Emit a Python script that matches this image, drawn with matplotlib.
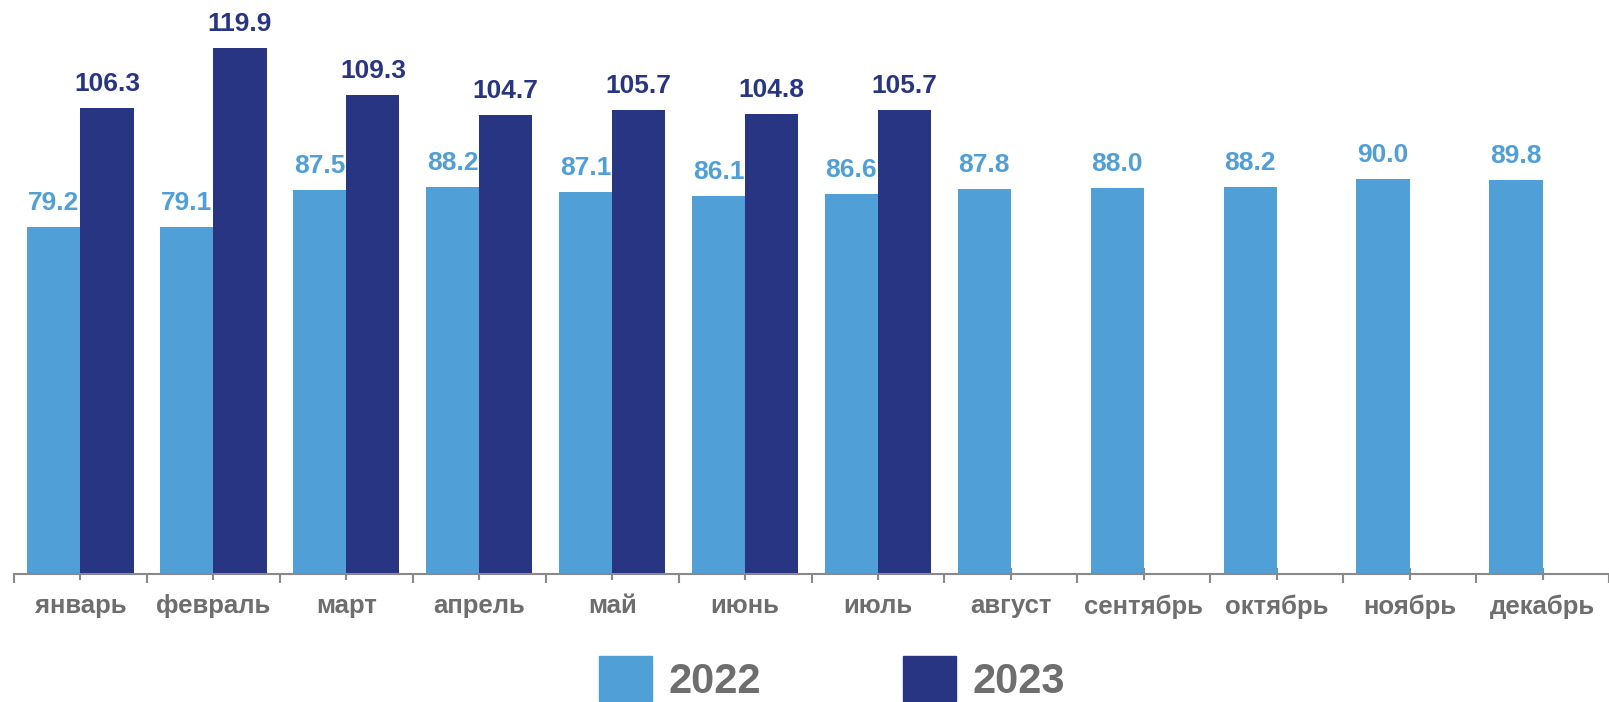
import matplotlib.pyplot as plt
import numpy as np
from matplotlib.patches import Patch

months = ['январь', 'февраль', 'март', 'апрель', 'май', 'июнь', 'июль',
          'август', 'сентябрь', 'октябрь', 'ноябрь', 'декабрь']
vals_2022 = [79.2, 79.1, 87.5, 88.2, 87.1, 86.1, 86.6, 87.8, 88.0, 88.2, 90.0, 89.8]
vals_2023 = [106.3, 119.9, 109.3, 104.7, 105.7, 104.8, 105.7]

c22 = '#519FD7'
c23 = '#283583'
grey = '#6E6E6E'
axis_grey = '#898989'

plt.rcParams['font.family'] = ['Liberation Sans', 'DejaVu Sans']

W, H = 1609, 702
cw = 133.5  # pixel width of one month
fig = plt.figure(figsize=(W / 100, H / 100), dpi=100)
ax = fig.add_axes([14 / W, 128 / H, (W - 14) / W, 574 / H])

w = 0.4
x22 = np.arange(len(vals_2022))
x23 = np.arange(len(vals_2023))
b22 = ax.bar(x22 - w / 2, vals_2022, width=w, color=c22, zorder=2)
b23 = ax.bar(x23 + w / 2, vals_2023, width=w, color=c23, zorder=2)

for bars, vals, col in [(b22, vals_2022, c22), (b23, vals_2023, c23)]:
    for b, v in zip(bars, vals):
        ax.annotate(f'{v:.1f}', (b.get_x() + b.get_width() / 2, v),
                    xytext=(0, 12.2), textcoords='offset points',
                    ha='center', va='baseline', fontsize=19,
                    fontweight='bold', color=col)

ax.set_xlim(-0.5, -0.5 + (W - 14) / cw)
ax.set_ylim(0, 574 / 4.387)

for s in ['left', 'top', 'right']:
    ax.spines[s].set_visible(False)
ax.spines['bottom'].set_color(axis_grey)
ax.spines['bottom'].set_linewidth(1.5)

ax.set_yticks([])
ax.set_xticks(np.arange(12))
ax.set_xticklabels(months, fontsize=18.5, fontweight='bold', color=grey)
ax.set_xticks(np.arange(13) - 0.5, minor=True)
ax.tick_params(axis='x', which='major', direction='inout', length=8, width=1.5,
               color=axis_grey, pad=10.5)
ax.tick_params(axis='x', which='minor', direction='out', length=6.3, width=1.5,
               color=axis_grey)

handles = [Patch(color=c22, label='2022'), Patch(color=c23, label='2023')]
leg = fig.legend(handles=handles, loc='center', bbox_to_anchor=(832 / W, 23 / H),
                 ncol=2, frameon=False, borderpad=0,
                 prop={'size': 30, 'weight': 'bold'},
                 handlelength=1.27, handleheight=1.27, handletextpad=0.4,
                 columnspacing=3.4)
for t in leg.get_texts():
    t.set_color(grey)

fig.savefig('out.png', dpi=100)
